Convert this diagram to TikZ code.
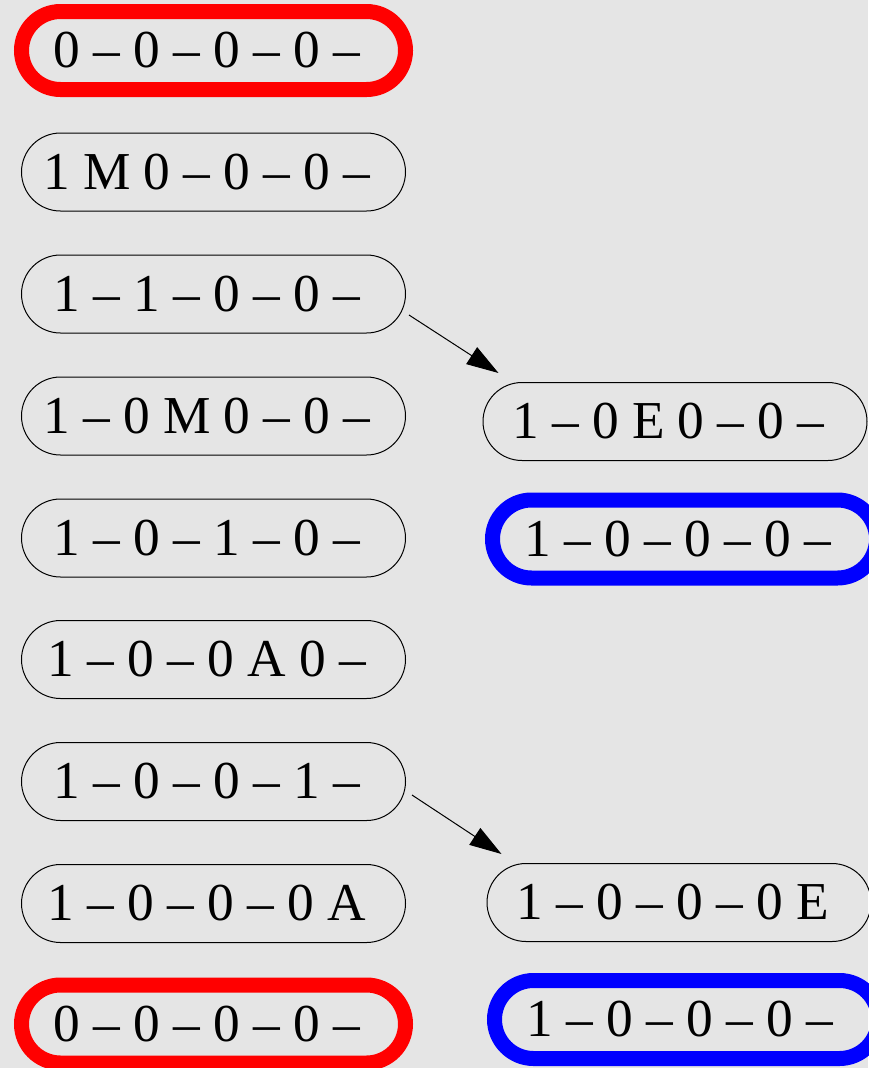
\documentclass[tikz,border=0pt]{standalone}
\usepackage{fontspec}
\setmainfont{Liberation Serif}
\usetikzlibrary{shapes.misc,arrows.meta,calc}
\definecolor{bggray}{RGB}{229,229,229}
\newcommand{\trail}{\kern10pt}
\begin{document}
\begin{tikzpicture}[x=0.75pt,y=-0.75pt,
  state/.style={rounded rectangle,draw=black,line width=0.75pt,minimum width=288pt,
    minimum height=58.5pt,inner sep=0pt,font=\fontsize{40}{40}\selectfont},
  startst/.style={state,draw=red,line width=11.25pt},
  finalst/.style={state,draw=blue,line width=11.25pt},
  edge/.style={line width=0.75pt,-{Triangle[length=24pt,width=15pt]}}]
\fill[bggray] (0,0) rectangle (868,1068);
\useasboundingbox (0,0) rectangle (868,1068);
% left column
\node[startst] (l1) at (213.5,50.5) {0 – 0 – 0 – 0 –\trail};
\node[state] (l2) at (213.5,172) {1 M 0 – 0 – 0 –\trail};
\node[state] (l3) at (213.5,294) {1 – 1 – 0 – 0 –\trail};
\node[state] (l4) at (213.5,416) {1 – 0 M 0 – 0 –\trail};
\node[state] (l5) at (213.5,538) {1 – 0 – 1 – 0 –\trail};
\node[state] (l6) at (213.5,659.5) {1 – 0 – 0 A 0 –\trail};
\node[state] (l7) at (213.5,781.5) {1 – 0 – 0 – 1 –\trail};
\node[state] (l8) at (213.5,903.5) {1 – 0 – 0 – 0 A\trail};
\node[startst] (l9) at (213.5,1024) {0 – 0 – 0 – 0 –\trail};
% right column
\node[state] (r4) at (675,421.5) {1 – 0 E 0 – 0 –\trail};
\node[finalst] (r5) at (684.5,539) {1 – 0 – 0 – 0 –\trail};
\node[state] (r8) at (679,902.5) {1 – 0 – 0 – 0 E\trail};
\node[finalst] (r9) at (686.5,1019.5) {1 – 0 – 0 – 0 –\trail};
% transitions
\draw[edge] ($(l3.east)+(3,21)$) -- ($(r4.west)+(16,-48.5)$);
\draw[edge] ($(l7.east)+(6,13.5)$) -- ($(r8.west)+(15,-48.5)$);
\end{tikzpicture}
\end{document}
